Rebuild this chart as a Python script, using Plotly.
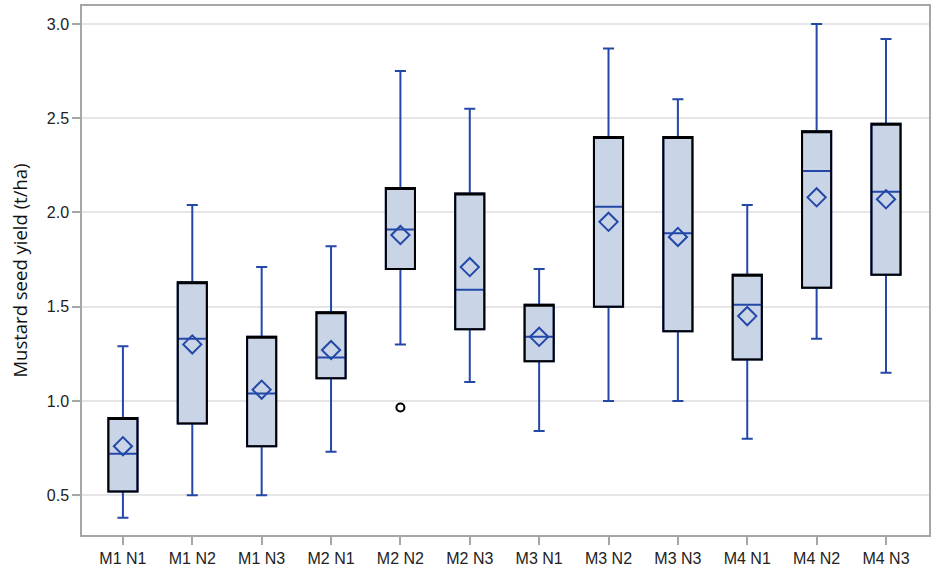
import plotly.graph_objects as go

# Treatment groups (manure x nitrogen)
groups = ["M1 N1", "M1 N2", "M1 N3", "M2 N1", "M2 N2", "M2 N3",
          "M3 N1", "M3 N2", "M3 N3", "M4 N1", "M4 N2", "M4 N3"]

# Box statistics (t/ha)
q1 = [0.52, 0.88, 0.76, 1.12, 1.70, 1.38, 1.21, 1.50, 1.37, 1.22, 1.60, 1.67]
median = [0.72, 1.33, 1.04, 1.23, 1.91, 1.59, 1.34, 2.03, 1.89, 1.51, 2.22, 2.11]
q3 = [0.91, 1.63, 1.34, 1.47, 2.13, 2.10, 1.51, 2.40, 2.40, 1.67, 2.43, 2.47]
lower = [0.38, 0.50, 0.50, 0.73, 1.30, 1.10, 0.84, 1.00, 1.00, 0.80, 1.33, 1.15]
upper = [1.29, 2.04, 1.71, 1.82, 2.75, 2.55, 1.70, 2.87, 2.60, 2.04, 3.00, 2.92]
means = [0.76, 1.30, 1.06, 1.27, 1.88, 1.71, 1.34, 1.95, 1.87, 1.45, 2.08, 2.07]

outlier_groups = ["M2 N2"]
outlier_values = [0.965]

blue = "#2348a8"
fill = "#c9d5e6"
box_w = 0.42

fig = go.Figure()

# whiskers + median in blue
fig.add_trace(go.Box(
    x=groups, q1=q1, median=median, q3=q3,
    lowerfence=lower, upperfence=upper,
    fillcolor=fill, line=dict(color=blue, width=2),
    width=box_w, whiskerwidth=0.38, boxpoints=False,
    showlegend=False, hoverinfo="skip"
))

# black outline of the boxes (second box trace with no whiskers)
fig.add_trace(go.Box(
    x=groups, q1=q1, median=q3, q3=q3,
    lowerfence=q1, upperfence=q3,
    fillcolor="rgba(0,0,0,0)", line=dict(color="black", width=2),
    width=box_w, whiskerwidth=0, boxpoints=False,
    showlegend=False, hoverinfo="skip"
))

# means
fig.add_trace(go.Scatter(
    x=groups, y=means, mode="markers",
    marker=dict(symbol="diamond-open", size=14, color=blue, line=dict(width=2, color=blue)),
    showlegend=False
))

# outliers
fig.add_trace(go.Scatter(
    x=outlier_groups, y=outlier_values, mode="markers",
    marker=dict(symbol="circle-open", size=8, color="black", line=dict(width=2, color="black")),
    showlegend=False
))

fig.update_layout(
    width=935, height=571,
    margin=dict(l=82, r=4, t=5, b=34),
    plot_bgcolor="white", paper_bgcolor="white",
    font=dict(family="Liberation Sans, Arial", size=16, color="#222222"),
    boxmode="overlay",
)
fig.update_xaxes(
    range=[-0.59, 11.62],
    showline=True, linecolor="#a6a6a6", linewidth=1.5, mirror=True,
    ticks="outside", ticklen=8, tickcolor="#a6a6a6", tickwidth=1.5,
    showgrid=False
)
fig.update_yaxes(
    range=[0.289, 3.095],
    tickvals=[0.5, 1.0, 1.5, 2.0, 2.5, 3.0], tickformat=".1f",
    showline=True, linecolor="#a6a6a6", linewidth=1.5, mirror=True,
    ticks="outside", ticklen=8, tickcolor="#a6a6a6", tickwidth=1.5,
    showgrid=True, gridcolor="#e6e6e6", gridwidth=1.5, zeroline=False,
    title=dict(text="Mustard seed yield (t/ha)", font=dict(family="Open Sans", size=18.5, color="#111111"), standoff=14)
)

# drop the default page margin so the figure sits at the window's corner
fig.write_html("out.html", config={"displayModeBar": False},
               post_script="document.body.style.margin='0';")
